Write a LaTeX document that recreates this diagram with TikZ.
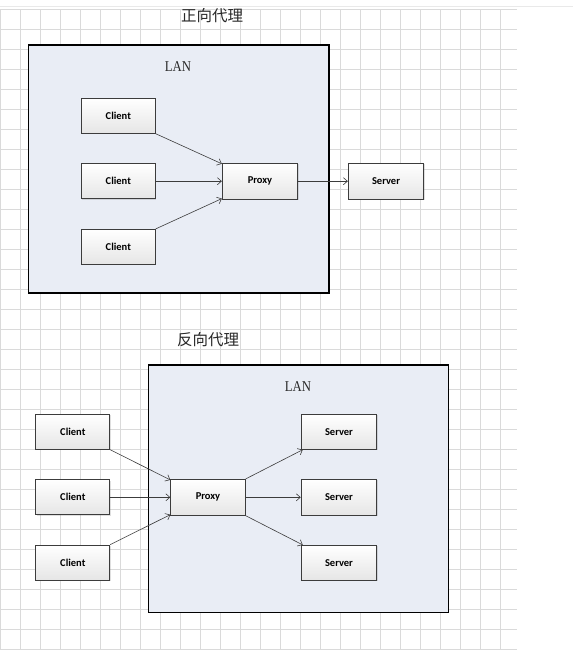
\documentclass[tikz,border=0pt]{standalone}
\usepackage{fontspec}
\setmainfont{Liberation Serif}
\newfontfamily\cjk{Noto Sans CJK SC}
\newfontfamily\boxfont{Carlito}
\usetikzlibrary{arrows.meta,shadows}
\definecolor{gridc}{RGB}{218,218,218}
\definecolor{lanfill}{RGB}{233,237,245}
\definecolor{linec}{RGB}{60,60,60}
\definecolor{titlec}{RGB}{40,40,40}
\tikzset{
  boxnode/.style={draw=linec, line width=0.8pt, minimum width=74pt, minimum height=35pt, inner sep=0pt,
    top color=white, bottom color=black!10, font=\boxfont\bfseries\fontsize{10.5}{11}\selectfont,
    drop shadow={opacity=0.25, shadow xshift=1pt, shadow yshift=-1pt}},
  lanbox/.style={draw=black, line width=1.1pt, fill=lanfill},
  conn/.style={draw=linec, line width=0.6pt, -{Straight Barb[length=4pt,width=7pt]}},
  titletext/.style={font=\cjk\fontsize{15.5}{16}\selectfont, text=titlec},
  lantext/.style={font=\fontsize{15}{16}\selectfont, text=titlec}
}
\begin{document}
\begin{tikzpicture}[x=1pt,y=-1pt]
\useasboundingbox (0,0) rectangle (573,660);
\fill[white] (0,0) rectangle (573,660);
% grid
\draw[gridc!60, line width=0.6pt] (0,6) -- (573,6);
\foreach \k in {0,...,32} \draw[gridc, line width=0.6pt] (0,9.3+20*\k) -- (517,9.3+20*\k);
\foreach \k in {0,...,25} \draw[gridc, line width=0.6pt] (20*\k,9.3) -- (20*\k,649.3);
% top: forward proxy
\node[titletext] (t1) at (212,16) {正向代理};
\draw[lanbox] (28.3,45) rectangle (329,293);
\node[lantext, xscale=0.85] (lan1) at (178,67) {LAN};
\node[boxnode] (c1) at (118.3,115.8) {Client};
\node[boxnode] (c2) at (118.3,181.2) {Client};
\node[boxnode] (c3) at (118.3,246.8) {Client};
\node[boxnode, minimum width=75.5pt, minimum height=36pt] (p1) at (260,181.2) {Proxy};
\node[boxnode, minimum width=75.5pt, minimum height=36pt] (s1) at (386,181.2) {Server};
\draw[conn] (c1.south east) -- ([yshift=-1pt]p1.north west);
\draw[conn] (c2.east) -- (p1.west);
\draw[conn] (c3.north east) -- ([yshift=1pt]p1.south west);
\draw[conn] (p1.east) -- (s1.west);
% bottom: reverse proxy
\node[titletext] (t2) at (208,340) {反向代理};
\draw[lanbox] (148.3,365) rectangle (448.3,612.7);
\node[lantext, xscale=0.85] (lan2) at (298,387) {LAN};
\node[boxnode] (rc1) at (72.8,431.8) {Client};
\node[boxnode] (rc2) at (72.8,497.3) {Client};
\node[boxnode] (rc3) at (72.8,562.5) {Client};
\node[boxnode, minimum width=74.6pt, minimum height=36pt] (p2) at (208,497.3) {Proxy};
\node[boxnode, minimum width=75.7pt] (rs1) at (339,431.8) {Server};
\node[boxnode, minimum width=75.7pt, minimum height=36pt] (rs2) at (339,497.3) {Server};
\node[boxnode, minimum width=75.7pt] (rs3) at (339,562.8) {Server};
\draw[conn] (rc1.south east) -- ([yshift=-1pt]p2.north west);
\draw[conn] (rc2.east) -- (p2.west);
\draw[conn] (rc3.north east) -- ([yshift=1pt]p2.south west);
\draw[conn] (p2.north east) -- ([xshift=2pt]rs1.south west);
\draw[conn] (p2.east) -- (rs2.west);
\draw[conn] (p2.south east) -- ([xshift=2pt]rs3.north west);
\end{tikzpicture}
\end{document}
